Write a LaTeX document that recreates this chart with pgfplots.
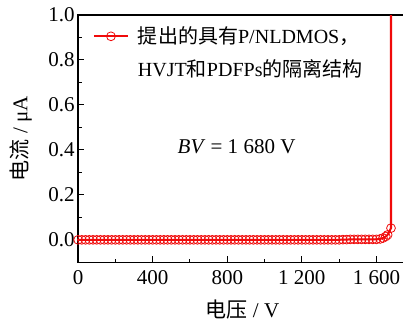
\documentclass[border=0pt]{standalone}
\usepackage{pgfplots}
\pgfplotsset{compat=1.18}
\usepackage{fontspec}
\setmainfont{Liberation Serif}
\newfontfamily\cjk{Noto Sans CJK SC}
\definecolor{myred}{RGB}{240,10,10}
\newcommand\fs{\fontsize{21}{25}\selectfont}
\begin{document}
\begin{tikzpicture}
\begin{axis}[
  scale only axis,
  width=325pt, height=247pt,
  xmin=0, xmax=1745, ymin=-0.1, ymax=1.0,
  xtick={0,400,800,1200,1600},
  xticklabels={0,400,800,1 200,1 600},
  ytick={0,0.2,0.4,0.6,0.8,1.0},
  yticklabel style={/pgf/number format/.cd,fixed,fixed zerofill,precision=1},
  /pgf/number format/assume math mode=true,
  minor x tick num=1, minor y tick num=1,
  xtick pos=bottom, ytick pos=left,
  tick align=inside,
  major tick length=6pt, minor tick length=3.5pt,
  every tick/.style={black, line width=1pt},
  axis line style={line width=1.2pt},
  tick label style={font=\fs},
  xticklabel style={yshift=-5pt},
  xlabel={{\cjk 电压} / V},
  ylabel={{\cjk 电流} / μA},
  label style={font=\fs, inner sep=0pt},
  xlabel style={at={(axis description cs:0.505,-0.19)}, anchor=center},
  ylabel style={at={(axis description cs:-0.1415,0.5)}, anchor=south},
  legend style={draw=none, fill=none, inner sep=0pt,
    at={(axis description cs:0.045,0.96)}, anchor=north west,
    font=\fontsize{20}{24}\selectfont,
    /tikz/every odd column/.append style={column sep=7pt}},
  legend cell align=left,
  legend image code/.code={
    \draw[#1, mark=none] (0pt,0pt) -- (34pt,0pt);
    \draw[#1, only marks] plot coordinates {(17pt,0pt)};
  },
]
\addplot[myred, line width=2pt, mark=o, mark size=4.4pt,
  mark options={fill=white, line width=0.8pt}] coordinates {
(0,0) (20,0) (40,0) (60,0) (80,0) (100,0) (120,0) (140,0) (160,0) (180,0)
(200,0) (220,0) (240,0) (260,0) (280,0) (300,0) (320,0) (340,0) (360,0) (380,0)
(400,0) (420,0) (440,0) (460,0) (480,0) (500,0) (520,0) (540,0) (560,0) (580,0)
(600,0) (620,0) (640,0) (660,0) (680,0) (700,0) (720,0) (740,0) (760,0) (780,0)
(800,0) (820,0) (840,0) (860,0) (880,0) (900,0) (920,0) (940,0) (960,0) (980,0)
(1000,0) (1020,0) (1040,0) (1060,0) (1080,0) (1100,0) (1120,0) (1140,0) (1160,0) (1180,0)
(1200,0) (1220,0) (1240,0) (1260,0) (1280,0) (1300,0) (1320,0) (1340,0) (1360,0) (1380,0)
(1400,0) (1420,0.001) (1440,0.001) (1460,0.002) (1480,0.002) (1500,0.002) (1520,0.002) (1540,0.002) (1560,0.002) (1580,0.002)
(1600,0.002) (1620,0.004) (1635,0.008) (1650,0.015) (1660,0.022) (1678,0.052) (1678,1.5)
};
\addlegendentry{\begin{tabular}[t]{@{}l@{}}{\cjk 提出的具有}P/NLDMOS{\cjk ，}\\[8pt]HVJT{\cjk 和}PDFPs{\cjk 的隔离结构}\end{tabular}}
\node[font=\fs] at (axis cs:850,0.415) {\textit{BV} = 1 680 V};
\coordinate (tl) at (axis description cs:-0.24,1.0607);
\coordinate (br) at (axis description cs:0.9985,-0.24);
\end{axis}
\pgfresetboundingbox
\useasboundingbox (tl) rectangle (br);
\end{tikzpicture}
\end{document}
